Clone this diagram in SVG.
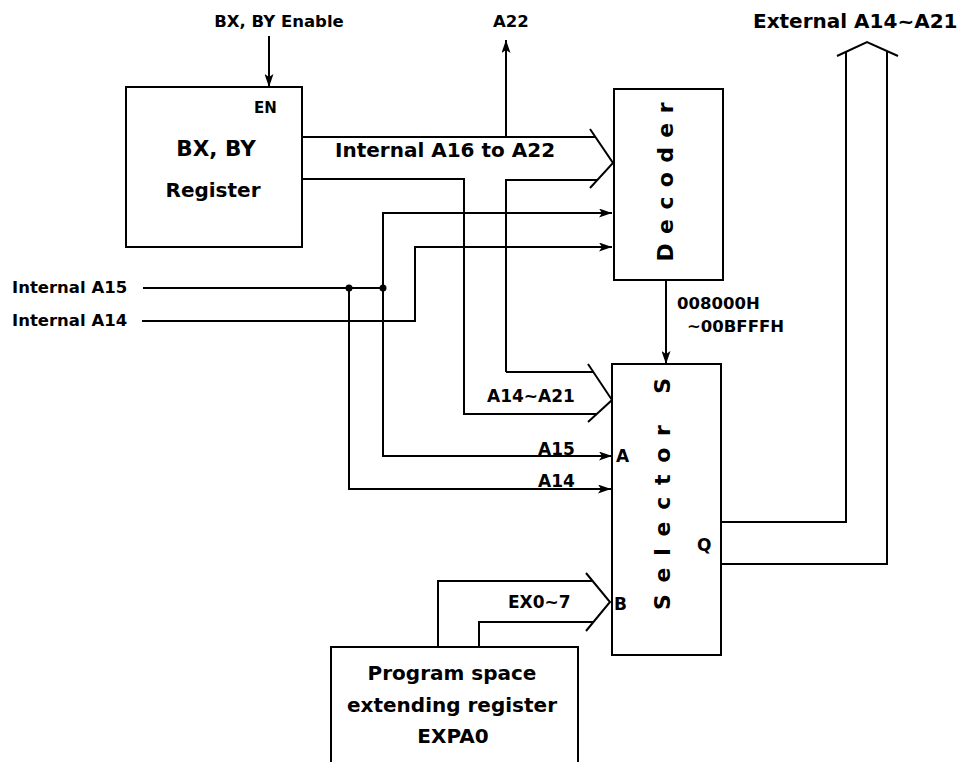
<svg xmlns="http://www.w3.org/2000/svg" width="965" height="762" viewBox="0 0 965 762">
<style>
  .box { fill: #fff; stroke: #000; stroke-width: 2; }
  .ln { fill: none; stroke: #000; stroke-width: 2; stroke-linejoin: miter; }
  .arr { marker-end: url(#ah); }
  text { font-family: "DejaVu Sans", "Liberation Sans", sans-serif; font-weight: bold; fill: #000; }
  .s15 { font-size: 15px; }
  .s16 { font-size: 16.5px; }
  .s17 { font-size: 17px; }
  .s20 { font-size: 20px; }
  .s21 { font-size: 21.5px; }
  .rot { font-size: 22px; }
  .mid { text-anchor: middle; }
</style>
<defs>
  <marker id="ah" markerUnits="userSpaceOnUse" markerWidth="13" markerHeight="9" viewBox="0 0 13 9" refX="13" refY="4.5" orient="auto">
    <path d="M0,0 L13,4.5 L0,9 L3,4.5 Z" fill="#000"/>
  </marker>
</defs>
<rect width="965" height="762" fill="#fff"/>

<g id="connectors">
  <path class="ln arr" d="M269,36 V87"/>
  <path class="ln" d="M302,137 H596"/>
  <path class="ln arr" d="M506,137 V40"/>
  <path class="ln" d="M506,372 V180 H597"/>
  <polyline class="ln" points="590,129 613,163 590,188"/>
  <path class="ln" d="M302,179 H464 V414 H597"/>
  <path class="ln" d="M506,372 H593"/>
  <polyline class="ln" points="588,364 612,400 588,422"/>
  <path class="ln" d="M143,288 H383"/>
  <path class="ln arr" d="M383,288 V213 H612"/>
  <path class="ln arr" d="M383,288 V456 H612"/>
  <path class="ln arr" d="M349,288 V489 H611"/>
  <path class="ln arr" d="M142,321 H415 V247 H612"/>
  <circle cx="349" cy="288" r="3.5" fill="#000"/>
  <circle cx="383" cy="288" r="3.5" fill="#000"/>
  <path class="ln arr" d="M666,280 V364"/>
  <path class="ln" d="M721,522 H846 V52"/>
  <path class="ln" d="M721,564 H887 V51"/>
  <polyline class="ln" points="837,56 867,42 898,56"/>
  <path class="ln" d="M438,647 V581 H593"/>
  <path class="ln" d="M479,647 V622 H594"/>
  <polyline class="ln" points="586,573 610,602 586,631"/>
</g>

<g id="register">
  <rect class="box" x="126" y="87" width="176" height="160"/>
  <text class="s15" x="254" y="113">EN</text>
  <text class="s21 mid" x="216" y="156">BX, BY</text>
  <text class="s20 mid" x="213" y="197">Register</text>
</g>

<g id="decoder">
  <rect class="box" x="614" y="89" width="109" height="191"/>
  <text class="rot mid" transform="translate(673,182) rotate(-90)" textLength="159">Decoder</text>
</g>

<g id="selector">
  <rect class="box" x="612" y="364" width="109" height="291"/>
  <text class="rot mid" transform="translate(670,494) rotate(-90)" textLength="232">Selector S</text>
  <text class="s17" x="616" y="462">A</text>
  <text class="s17" x="614" y="610">B</text>
  <text class="s17" x="697" y="551">Q</text>
</g>

<g id="expa0">
  <rect class="box" x="331" y="647" width="247" height="130"/>
  <text class="s20 mid" x="452" y="680">Program space</text>
  <text class="s20 mid" x="452" y="712">extending register</text>
  <text class="s20 mid" x="453" y="743">EXPA0</text>
</g>

<g id="labels">
  <text class="s16 mid" x="279" y="27">BX, BY Enable</text>
  <text class="s16" x="493" y="27">A22</text>
  <text class="s20" x="753" y="28">External A14~A21</text>
  <text class="s20" x="335" y="157">Internal A16 to A22</text>
  <text class="s16" x="12" y="293">Internal A15</text>
  <text class="s16" x="12" y="326">Internal A14</text>
  <text class="s16" x="677" y="309">008000H</text>
  <text class="s16" x="687" y="332">~00BFFFH</text>
  <text class="s17" x="487" y="402">A14~A21</text>
  <text class="s17" x="538" y="455">A15</text>
  <text class="s17" x="538" y="487">A14</text>
  <text class="s17" x="508" y="608">EX0~7</text>
</g>
</svg>
